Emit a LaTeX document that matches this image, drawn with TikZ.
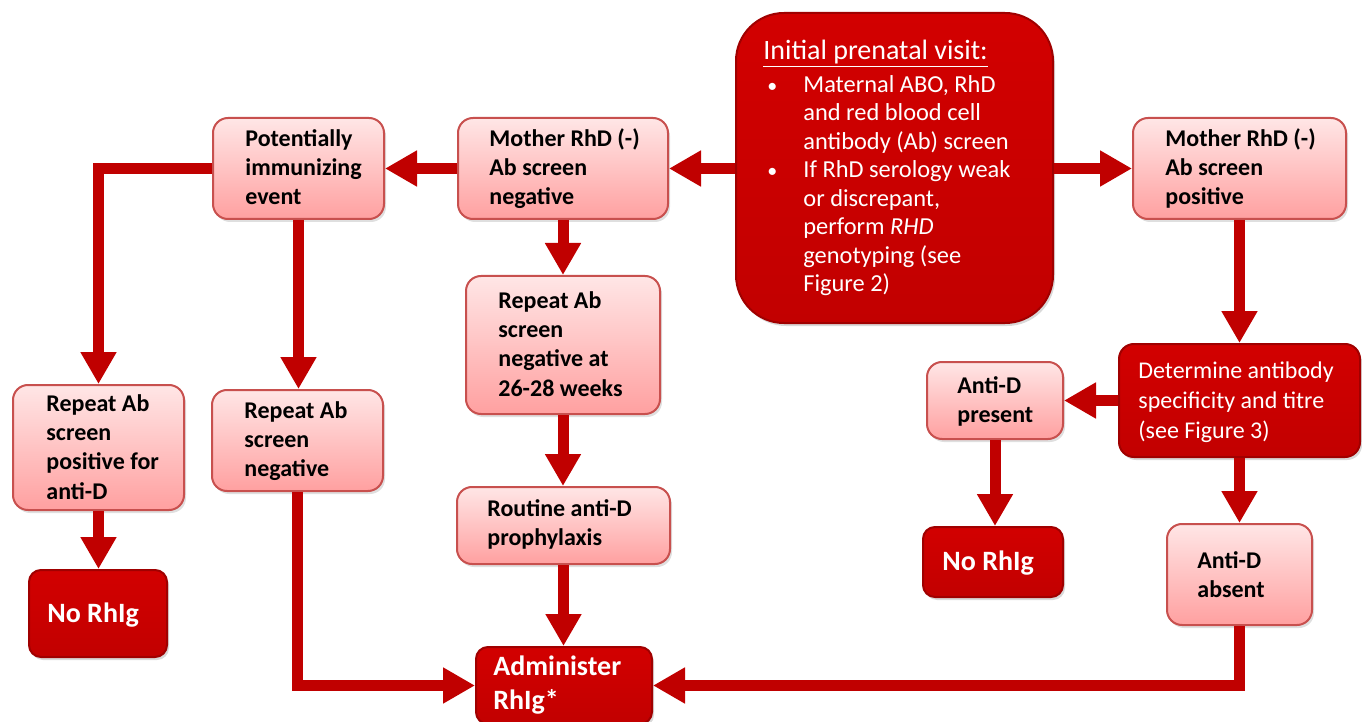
\documentclass[tikz,border=0pt]{standalone}
\usepackage{fontspec}
\setmainfont{Carlito}
\usetikzlibrary{arrows.meta,shadows,calc}
\definecolor{arrowred}{HTML}{C00000}
\definecolor{lboxborder}{HTML}{C8504E}
\definecolor{lboxtop}{HTML}{FFE6E6}
\definecolor{lboxbot}{HTML}{FFA0A0}
\definecolor{dboxborder}{HTML}{A00000}
\definecolor{dboxtop}{HTML}{D20000}
\definecolor{dboxbot}{HTML}{C20000}
\newcommand{\bul}{\hspace*{2pt}\makebox[18pt][l]{\fontsize{10}{10}\selectfont•}}
\newcommand{\ind}{\hspace*{20pt}}
\begin{document}
\begin{tikzpicture}[x=0.5pt,y=-0.5pt,
  lbox/.style={rounded corners=7.5pt, draw=lboxborder, line width=1pt, top color=lboxtop, bottom color=lboxbot, inner sep=0pt,
    drop shadow={opacity=0.25, shadow xshift=1pt, shadow yshift=-1.5pt}},
  dbox/.style={rounded corners=6pt, draw=dboxborder, line width=1pt, top color=dboxtop, bottom color=dboxbot, inner sep=0pt,
    drop shadow={opacity=0.3, shadow xshift=1pt, shadow yshift=-1.5pt}},
  ltext/.style={anchor=base west, align=left, inner sep=0pt, text=black, font=\bfseries\fontsize{12}{14.7}\selectfont},
  dtext/.style={anchor=base west, align=left, inner sep=0pt, text=white, font=\bfseries\fontsize{14}{17}\selectfont},
  wtext/.style={anchor=base west, align=left, inner sep=0pt, text=white, font=\fontsize{12}{15}\selectfont},
  itext/.style={anchor=base west, align=left, inner sep=0pt, text=white, font=\fontsize{12.2}{14.25}\selectfont},
  arr/.style={draw=arrowred, line width=5.5pt, -{Triangle[length=16pt,width=17pt]}}
]
\useasboundingbox (0,0) rectangle (1362,722);

% boxes
\node[dbox, rounded corners=24pt, minimum width=158.5pt, minimum height=155pt] (init) at (894.5,168) {};
\node[lbox, minimum width=105pt, minimum height=50.5pt] (mneg) at (563,168.5) {};
\node[lbox, minimum width=85.5pt, minimum height=50.5pt] (pot) at (298.5,168.5) {};
\node[lbox, minimum width=106.5pt, minimum height=50.5pt] (mpos) at (1239.5,168.5) {};
\node[lbox, minimum width=97pt, minimum height=69pt] (rep) at (563,345) {};
\node[lbox, minimum width=106.5pt, minimum height=38.5pt] (routine) at (563.5,525.5) {};
\node[dbox, minimum width=88pt, minimum height=38.5pt] (admin) at (564,685.5) {};
\node[lbox, minimum width=85.5pt, minimum height=62.5pt] (reppos) at (98.5,447.5) {};
\node[lbox, minimum width=85.5pt, minimum height=50.5pt] (repneg) at (297.5,440.5) {};
\node[dbox, minimum width=69pt, minimum height=43.5pt] (norhl) at (98,613.5) {};
\node[dbox, rounded corners=7.5pt, minimum width=120.5pt, minimum height=56.5pt] (det) at (1239.5,400.5) {};
\node[lbox, minimum width=68pt, minimum height=38.5pt] (antip) at (995,400.5) {};
\node[dbox, minimum width=70pt, minimum height=35pt] (norhr) at (993,562) {};
\node[lbox, minimum width=72.5pt, minimum height=50.5pt] (antia) at (1239.5,574.5) {};

% texts (anchor = baseline of the last line)
\node[itext] (inittext) at (763,291.6) {\underline{\fontsize{14}{14}\selectfont Initial prenatal visit:}\\[2.3pt]
\bul Maternal ABO, RhD\\
\ind and red blood cell\\
\ind antibody (Ab) screen\\
\bul If RhD serology weak\\
\ind or discrepant,\\
\ind perform {\itshape RHD}\\
\ind genotyping (see\\
\ind Figure 2)};
\node[ltext] (mnegtext) at (489,204.8) {Mother RhD (-)\\Ab screen\\negative};
\node[ltext] (pottext) at (245,204.8) {Potentially\\immunizing\\event};
\node[ltext] (mpostext) at (1165,204.8) {Mother RhD (-)\\Ab screen\\positive};
\node[ltext] (reptext) at (498,396.2) {Repeat Ab\\screen\\negative at\\26-28 weeks};
\node[ltext] (routinetext) at (487,545.4) {Routine anti-D\\prophylaxis};
\node[dtext] (admintext) at (493,709) {Administer\\RhIg*};
\node[ltext] (reppostext) at (46,499.2) {Repeat Ab\\screen\\positive for\\anti-D};
\node[ltext] (repnegtext) at (244,476.8) {Repeat Ab\\screen\\negative};
\node[dtext] (norhltext) at (47,622) {No RhIg};
\node[wtext] (dettext) at (1138,438) {Determine antibody\\specificity and titre\\(see Figure 3)};
\node[ltext] (antiptext) at (957,422.4) {Anti-D\\present};
\node[dtext] (norhrtext) at (942,570) {No RhIg};
\node[ltext] (antiatext) at (1197,597.4) {Anti-D\\absent};

% connectors
\draw[arr] (init.west |- mneg.east) -- (mneg.east);
\draw[arr] (init.east |- mpos.west) -- (mpos.west);
\draw[arr] (mneg.west) -- (pot.east);
\draw[arr] (pot.west) -| (reppos.north);
\draw[arr] (pot.south) -- (pot.south |- repneg.north);
\draw[arr] (mneg.south) -- (rep.north);
\draw[arr] (rep.south) -- (rep.south |- routine.north);
\draw[arr] (routine.south) -- (routine.south |- admin.north);
\draw[arr] (reppos.south) -- (reppos.south |- norhl.north);
\draw[arr] (repneg.south) |- (admin.west);
\draw[arr] (mpos.south) -- (det.north);
\draw[arr] (det.west) -- (antip.east);
\draw[arr] (antip.south) -- (antip.south |- norhr.north);
\draw[arr] (det.south) -- (antia.north);
\draw[arr] (antia.south) |- (admin.east);
\end{tikzpicture}
\end{document}
